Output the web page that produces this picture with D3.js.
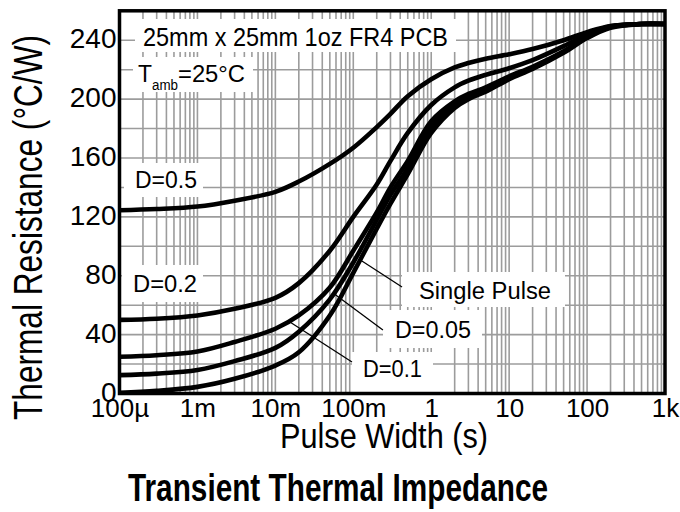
<!DOCTYPE html>
<html><head><meta charset="utf-8">
<script src="https://cdn.jsdelivr.net/npm/d3@7"></script>
<style>body{margin:0;background:#fff}svg{display:block}</style>
</head><body><svg id="c" width="680" height="512"></svg>
<script>
// Pulse widths (s) at which the curves are read
const pulseWidths = [1e-4, 3e-4, 1e-3, 3e-3, 1e-2, 2e-2, 5e-2, 0.1, 0.2, 0.3, 0.5, 1, 2, 3, 5, 10, 20, 50, 100, 200, 500, 1000];
// Thermal resistance (°C/W) per duty cycle
const curveD05 = [124.5, 125.3, 127, 131, 137, 144, 156, 167, 181, 190, 202, 213.5, 221.5, 224.5, 227.5, 230.5, 234, 240, 245.5, 249.7, 251, 251];
const curveD02 = [50, 50.8, 53, 57.5, 65, 75, 97, 120, 142, 158, 177, 196, 208, 212.5, 216.5, 221, 226.5, 236, 244, 249.5, 251, 251];
const curveD01 = [25, 26, 28.5, 35, 44, 53, 72, 97, 123, 140, 158, 185, 198.5, 203.5, 208, 215.5, 222, 232.5, 242.5, 249, 251, 251];
const curveD005 = [12.5, 13.5, 16, 22, 31, 42, 64, 89, 118, 135, 153, 181, 196.5, 202, 206.5, 214.5, 221.3, 232, 242, 249, 251, 251];
const curveSingle = [0.5, 1.8, 4.5, 10, 19, 28, 53, 82, 112, 129, 149, 177, 194, 200, 205, 213.5, 220.5, 231.5, 241.5, 248.5, 251, 251];
const seriesList = [curveD05, curveD02, curveD01, curveD005, curveSingle];

const xTickValues = [1e-4, 1e-3, 1e-2, 1e-1, 1, 10, 100, 1000];
const xTickLabels = ["100µ", "1m", "10m", "100m", "1", "10", "100", "1k"];
const yTickValues = [0, 40, 80, 120, 160, 200, 240];

// Leader lines in data units: [t1, v1, t2, v2]
const leaderSingle = [0.129, 90.0, 0.422, 72.4];
const leaderD005 = [0.055, 68.3, 0.240, 43.1];
const leaderD01 = [0.01538, 48.6, 0.0962, 21.4];

const svg = d3.select("#c");
const x = d3.scaleLog().domain([1e-4, 1e3]).range([119.5, 665]);
const y = d3.scaleLinear().domain([0, 260]).range([393.5, 10.8]);
const FONT = "'Liberation Sans Narrow','Liberation Sans',Arial,sans-serif";
const FONTW = "'Liberation Sans',Arial,sans-serif";

// grid
const grid = svg.append("g").attr("stroke", "#9c9c9c").attr("stroke-width", 1.6);
const vGrid = [];
for (let n = -4; n <= 2; n++) for (let k = 1; k <= 9; k++) { const v = k * Math.pow(10, n); if (v > 1e-4) vGrid.push(v); }
grid.selectAll("line.v").data(vGrid).join("line").attr("class", "v")
  .attr("x1", d => x(d)).attr("x2", d => x(d)).attr("y1", y(260)).attr("y2", y(0));
grid.selectAll("line.h").data(d3.range(20, 260, 20)).join("line").attr("class", "h")
  .attr("x1", x(1e-4)).attr("x2", x(1e3)).attr("y1", d => y(d)).attr("y2", d => y(d));

// label boxes
const boxes = [
  [135, 19, 321, 33], [133, 57, 120, 35], [124, 163, 79, 34], [122, 265, 81, 37],
  [402, 272, 163, 35], [383, 310, 99, 38], [352, 352, 81, 40]
];
svg.append("g").selectAll("rect").data(boxes).join("rect")
  .attr("x", d => d[0]).attr("y", d => d[1]).attr("width", d => d[2]).attr("height", d => d[3]).attr("fill", "#fff");

// curves
const line = d3.line().x(d => x(d[0])).y(d => y(d[1])).curve(d3.curveCatmullRom.alpha(0.5));
svg.append("g").selectAll("path").data(seriesList).join("path")
  .attr("d", s => line(pulseWidths.map((t, i) => [t, s[i]])))
  .attr("fill", "none").attr("stroke", "#000").attr("stroke-width", 4.6).attr("stroke-linejoin", "round");

// leaders
svg.append("g").selectAll("line").data([leaderSingle, leaderD005, leaderD01]).join("line")
  .attr("x1", d => x(d[0])).attr("y1", d => y(d[1])).attr("x2", d => x(d[2])).attr("y2", d => y(d[3]))
  .attr("stroke", "#000").attr("stroke-width", 1.3);

// frame
svg.append("rect").attr("x", x(1e-4)).attr("y", y(260)).attr("width", x(1e3) - x(1e-4)).attr("height", y(0) - y(260))
  .attr("fill", "none").attr("stroke", "#000").attr("stroke-width", 3.5);

function txt(str, px, py, size, len, opts = {}) {
  const t = svg.append("text").attr("x", px).attr("y", py).attr("font-family", opts.family || FONTW)
    .attr("font-size", size).attr("fill", "#000").text(str);
  if (len) t.attr("textLength", len).attr("lengthAdjust", "spacingAndGlyphs");
  if (opts.weight) t.attr("font-weight", opts.weight);
  return t;
}

// axes labels
const ya = svg.append("g").attr("transform", `translate(${x(1e-4)},0)`)
  .call(d3.axisLeft(y).tickValues(yTickValues).tickSize(0).tickPadding(3).tickFormat(d3.format("d")));
ya.select(".domain").remove();
ya.selectAll("text").attr("font-family", FONT).attr("font-size", 28).attr("dy", "0.27em").attr("fill", "#000");

const xa = svg.append("g").attr("transform", `translate(0,${y(0)})`)
  .call(d3.axisBottom(x).tickValues(xTickValues).tickSize(0).tickPadding(5).tickFormat((d, i) => xTickLabels[i]));
xa.select(".domain").remove();
xa.selectAll("text").attr("font-family", FONT).attr("font-size", 26).attr("fill", "#000");

// annotations
txt("25mm x 25mm 1oz FR4 PCB", 143, 46, 25, 305);
txt("T", 138, 82, 24, 14);
txt("amb", 152, 90, 14, 26);
txt("=25°C", 178, 82, 24, 67);
txt("D=0.5", 135, 188, 23, 62);
txt("D=0.2", 133, 292, 23, 64);
txt("Single Pulse", 419, 299, 23, 132);
txt("D=0.05", 395, 338, 23, 76);
txt("D=0.1", 363, 377, 23, 59);

// titles
txt("Pulse Width (s)", 280, 448, 35, 208);
svg.append("text").attr("transform", "translate(42,420) rotate(-90)").attr("x", 0).attr("y", 0)
  .attr("font-family", FONTW).attr("font-size", 40).attr("textLength", 385).attr("lengthAdjust", "spacingAndGlyphs")
  .text("Thermal Resistance (°C/W)");
txt("Transient Thermal Impedance", 128, 501, 39, 420, { weight: "bold" });
</script></body></html>
